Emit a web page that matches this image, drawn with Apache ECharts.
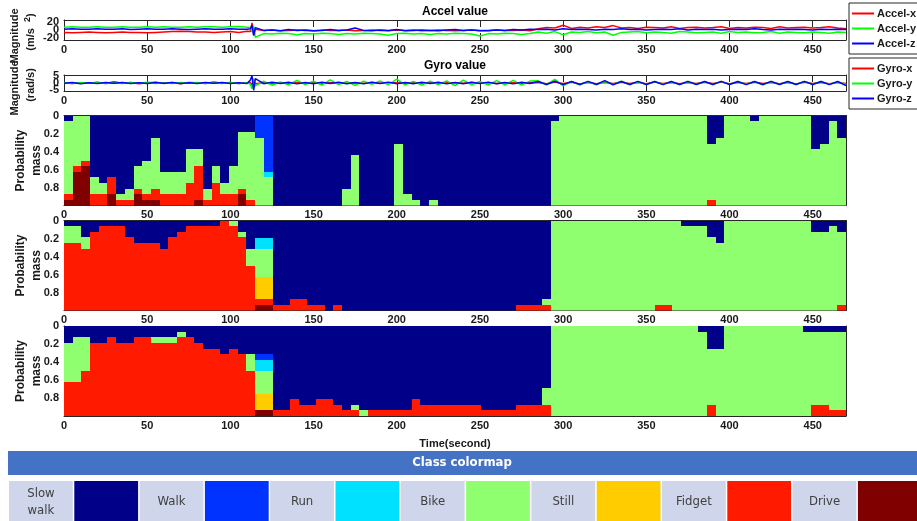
<!DOCTYPE html>
<html>
<head>
<meta charset="utf-8">
<script src="https://cdn.jsdelivr.net/npm/echarts@6/dist/echarts.min.js"></script>
<style>
  html, body { margin: 0; padding: 0; background: #fff; }
  #chart { width: 917px; height: 521px; }
</style>
</head>
<body>
<div id="chart"></div>
<script>
// ---- classes / colormap ----
var classNames = ['Slow\nwalk', 'Walk', 'Run', 'Bike', 'Still', 'Fidget', 'Drive'];
var classColors = ['#000088', '#0033ff', '#00e1ff', '#8fff6f', '#ffcc00', '#ff1a00', '#800000'];

// ---- sensor traces (time in s) ----
var sensorT = [0,5,10,15,20,25,30,35,40,45,50,55,60,65,70,75,80,85,90,95,100,105,110,
  112,113,114,115,
  120,125,130,135,140,145,150,155,160,165,170,175,180,185,190,195,200,205,210,215,220,225,230,235,240,245,250,255,260,265,270,275,280,
  285,290,295,300,305,310,315,320,325,330,335,340,345,350,355,360,365,370,375,380,385,390,395,400,405,410,415,420,425,430,435,440,445,450,455,460,465,470];

var accelX = [-6,-7,-6,-5,-6,-7,-6,-5,-6,-6,-7,-6,-5,-4,-3,-4,-5,-5,-6,-5,-4,-6,-3,
  -4,18,-12,2,
  -1,0,-2,-1,0,-1,-2,0,-1,-1,0,-2,-1,0,-1,-2,0,-1,0,-2,-1,0,-1,-2,-1,0,-1,-2,0,-1,-1,0,-2,
  3,6,5,12,4,7,5,8,6,11,5,6,4,7,6,5,8,4,6,7,5,6,8,4,6,5,7,6,4,8,5,6,7,5,6,8,5,3];
var accelY = [7,8,7,7,8,7,7,8,7,7,8,7,8,7,7,8,7,8,8,7,8,9,7,
  6,-5,10,-18,
  -9,-10,-8,-9,-12,-9,-10,-8,-9,-11,-9,-10,-8,-9,-10,-13,-9,-8,-10,-9,-11,-9,-10,-8,-9,-10,-15,-9,-10,-8,-9,-11,-9,
  -5,-8,-4,-12,-5,-6,-4,-7,-5,-13,-6,-5,-4,-7,-5,-6,-8,-4,-5,-7,-6,-5,-8,-4,-6,-5,-7,-6,-4,-8,-5,-6,-7,-5,-6,-8,-5,-6];
var accelZ = [2,3,2,2,3,2,2,3,1,2,3,2,2,3,2,1,2,3,2,2,3,2,2,
  3,12,-14,6,
  -1,0,-2,1,-1,0,-2,-1,1,-1,0,5,-1,-2,0,-1,1,-2,-1,0,-1,-2,0,1,-1,0,-2,-1,0,-1,1,0,2,
  1,2,0,3,1,2,1,0,2,1,3,1,2,0,1,2,1,3,0,2,1,2,0,1,2,1,3,1,0,2,1,2,1,0,2,1,2,1];

var gyroX = [0,-0.3,0.2,-0.2,0.5,-0.3,0.8,-0.2,0.3,-0.5,0.2,0.6,-0.4,0.3,-0.6,0.4,0.2,-0.3,0.7,-0.2,0.3,-0.4,0.2,
  0.5,-1.5,2,-0.5,
  0.2,-0.3,0.1,-0.2,0.3,-0.1,0.2,-0.3,0.1,0.2,-0.2,0.1,-0.1,0.3,-0.2,0.1,0.2,-0.1,0.3,-0.2,0.1,-0.3,0.2,0.1,-0.2,0.3,-0.1,0.2,-0.3,0.1,0.2,-0.1,0.2,
  0.4,-0.5,0.6,-0.4,0.5,-0.6,0.4,-0.5,0.3,-0.4,0.5,-0.3,0.4,-0.5,0.6,-0.4,0.3,-0.5,0.4,-0.3,0.5,-0.4,0.6,-0.5,0.4,-0.3,0.5,-0.4,0.3,-0.5,0.4,-0.6,0.5,-0.4,0.3,-0.5,0.4,-0.3];
var gyroY = [0.2,-0.4,0.3,-0.2,0.4,-0.3,0.2,-0.4,0.3,-0.2,0.5,-0.3,0.2,-0.4,0.3,-0.2,0.4,-0.3,0.2,-0.4,0.3,-0.3,0.2,
  -1,-4,3,-2,
  1.2,-1.5,0.8,-1.2,1.8,-1,1.2,-1.4,2.2,-1.1,1,-1.6,1.3,-0.9,1.5,-1.2,2.6,-1.3,1.1,-1.5,1.2,-1,1.4,-1.8,2,-1.2,1.1,-1.4,1.6,-1.2,1.8,-1.5,1.3,
  1.5,-1.2,2.5,-2,1,-1.2,0.8,-1,1,-0.8,1.2,-1,0.8,-1,1,-0.8,0.9,-1.1,1,-0.9,0.8,-1,1.1,-0.8,1,-0.9,0.8,-1.2,1,-0.8,0.9,-1,1.1,-0.9,1,-0.8,0.9,-1];
var gyroZ = [-0.2,0.3,-0.5,0.2,-0.3,0.4,-0.2,0.3,-0.4,0.2,-0.3,0.3,-0.2,0.4,-0.3,0.2,-0.4,0.3,-0.2,0.3,-0.4,0.2,-0.3,
  2,5,-5,3,
  -0.5,0.6,-0.4,0.5,-0.6,0.4,-0.5,0.6,-0.4,0.5,-0.5,0.4,-0.6,0.5,-0.4,0.6,-0.5,0.4,-0.5,0.6,-0.4,0.5,-0.6,0.4,-0.5,0.5,-0.4,0.6,-0.5,0.4,-0.6,0.5,-0.4,
  1,-1,1.2,-1.1,1,-1,1.1,-1,1.6,-1.2,1,-1,1.1,-1,1,-1.1,1,-1,1.1,-1,1,-1,1.1,-1,1,-1.1,1,-1,1.1,-1,1,-1,1.1,-1,1,-1.1,1,-1.8];

var accelNames = ['Accel-x', 'Accel-y', 'Accel-z'];
var gyroNames = ['Gyro-x', 'Gyro-y', 'Gyro-z'];
var traceColors = ['#ff0000', '#00ff00', '#0000ff'];
var accelTicks = [-20, 0, 20];
var gyroTicks = [-5, 0, 5];

// ---- probability mass, 90 bins over 0..470 s ----
var binCount = 90;
var timeMax = 470;

// bike is dense, the rest sparse {bin: mass}; slow walk takes what is left
var p1Bike = [.812,.562,.5,.188,.125,0,.062,.125,.25,.375,.562,.25,.25,.25,.375,.188,.125,.188,.125,.312,.625,.75,.75,.312,
  0,0,0,0,0,0,0,0,.188,.562,0,0,0,0,.688,.125,.062,0,.062,
  0,0,0,0,0,0,0,0,0,0,0,0,0,
  .938,1,1,1,1,1,1,1,1,1,1,1,1,1,1,1,1,1,.625,.75,1,1,1,.938,1,1,1,1,1,1,.625,.688,.938,.75];
var p1Walk = {22: .25, 23: .625};
var p1Run = {23: .062};
var p1Still = {};
var p1Fidget = {0:.062,1:.062,2:.062,3:.125,4:.125,5:.188,6:.062,7:.062,8:.062,9:.062,10:.125,11:.125,12:.125,13:.125,
  14:.25,15:.375,16:.062,17:.25,18:.125,19:.125,20:.062,21:.062,74:.062};
var p1Drive = {0:.062,1:.375,2:.438,5:.125,8:.125,9:.062,10:.062,15:.062,20:.125};

var p2Bike = [.188,.188,.125,0,0,0,0,0,0,0,0,0,0,0,0,0,0,0,0,.062,.062,.188,.312,.312,
  0,0,0,0,0,0,0,0,0,0,0,0,0,0,0,0,0,0,0,0,0,0,0,0,0,0,0,0,0,0,0,
  .062,1,1,1,1,1,1,1,1,1,1,1,1,.938,.938,1,.938,.938,.938,.812,.75,1,1,1,1,1,1,1,1,1,1,.875,.875,.938,.812];
var p2Walk = {};
var p2Run = {22: .125, 23: .125};
var p2Still = {22: .25, 23: .25};
var p2Fidget = {0:.75,1:.75,2:.688,3:.875,4:.938,5:.938,6:.938,7:.812,8:.75,9:.75,10:.75,11:.688,12:.812,13:.875,
  14:.938,15:.938,16:.938,17:.938,18:1,19:.938,20:.812,21:.5,22:.062,23:.062,24:.062,25:.062,26:.125,27:.125,
  28:.062,29:.062,31:.062,52:.062,53:.062,54:.062,55:.062,68:.062,69:.062,89:.062};
var p2Drive = {22: .062, 23: .062};

var p3Bike = [.438,.5,.375,0,0,0,0,0,0,0,.062,.062,.062,.062,0,0,0,0,0,0,0,.188,.25,.25,
  0,0,0,0,0,0,0,0,0,.062,.062,
  0,0,0,0,0,0,0,0,0,0,0,0,0,0,0,0,0,0,0,0,
  .188,1,1,1,1,1,1,1,1,1,1,1,1,1,1,1,1,1,.938,.625,.75,1,1,1,1,1,1,1,1,1,.938,.812,.812,.875,.875];
var p3Walk = {22: .062, 23: .062};
var p3Run = {22: .125, 23: .125};
var p3Still = {22: .188, 23: .188};
var p3Fidget = {0:.375,1:.375,2:.5,3:.812,4:.812,5:.875,6:.812,7:.812,8:.875,9:.875,10:.812,11:.812,12:.812,13:.875,
  14:.875,15:.812,16:.75,17:.75,18:.688,19:.75,20:.688,21:.5,24:.062,25:.062,26:.188,27:.125,28:.125,29:.188,
  30:.188,31:.125,32:.062,33:.062,35:.062,36:.062,37:.062,38:.062,39:.062,40:.188,41:.125,42:.125,43:.125,
  44:.125,45:.125,46:.125,47:.125,48:.062,49:.062,50:.062,51:.062,52:.125,53:.125,54:.125,55:.125,
  74:.125,86:.125,87:.125,88:.062,89:.062};
var p3Drive = {22: .062, 23: .062};

function dense(map) {
  var a = [];
  for (var i = 0; i < binCount; i++) a.push(map[i] || 0);
  return a;
}

// returns 7 arrays in class order
function buildPanel(bike, walk, run, still, fidget, drive) {
  var w = dense(walk), r = dense(run), s = dense(still), f = dense(fidget), d = dense(drive);
  var slow = [];
  for (var i = 0; i < binCount; i++) {
    var rest = 1 - (w[i] + r[i] + bike[i] + s[i] + f[i] + d[i]);
    slow.push(Math.max(0, Math.round(rest * 1000) / 1000));
  }
  return [slow, w, r, bike, s, f, d];
}

var panels = [
  buildPanel(p1Bike, p1Walk, p1Run, p1Still, p1Fidget, p1Drive),
  buildPanel(p2Bike, p2Walk, p2Run, p2Still, p2Fidget, p2Drive),
  buildPanel(p3Bike, p3Walk, p3Run, p3Still, p3Fidget, p3Drive)
];

// stack the classes of a panel: one item per bin -> [tStart, tEnd, massFrom, massTo]
function stackPanel(pd) {
  var out = pd.map(function () { return []; });
  var binW = timeMax / binCount;
  for (var i = 0; i < binCount; i++) {
    var acc = 0;
    for (var c = 0; c < pd.length; c++) {
      var v = pd[c][i];
      if (v > 0) out[c].push([i * binW, (i + 1) * binW, acc, Math.min(1, acc + v)]);
      acc += v;
    }
  }
  return out;
}

// pixel-snapped rectangles so neighbouring bins leave no seams
function renderBin(params, api) {
  var a = api.coord([api.value(0), api.value(2)]);
  var b = api.coord([api.value(1), api.value(3)]);
  var x0 = Math.round(a[0]), x1 = Math.round(b[0]);
  var y0 = Math.round(Math.min(a[1], b[1])), y1 = Math.round(Math.max(a[1], b[1]));
  return {
    type: 'rect',
    shape: { x: x0, y: y0, width: x1 - x0, height: y1 - y0 },
    style: { fill: api.visual('color') }
  };
}

// ---- layout ----
var FONT = "'Liberation Sans', Arial, sans-serif";
var NARROW = "'Liberation Sans Narrow', 'DejaVu Sans Condensed', sans-serif";
var axisCol = '#262626';
var plotLeft = 64, plotWidth = 782;
var grids = [
  { top: 20, height: 20 },
  { top: 75, height: 16 },
  { top: 115.5, height: 90 },
  { top: 220.5, height: 90 },
  { top: 326, height: 90 }
].map(function (g) {
  return Object.assign({ left: plotLeft, width: plotWidth, outerBoundsMode: 'none', containLabel: false }, g);
});

var tickLabel = { fontFamily: FONT, fontWeight: 'bold', fontSize: 11, color: '#1a1a1a' };
var lineSty = { color: axisCol, width: 1 };

var xAxes = [], yAxes = [];

function timeAxis(gi, pos, extra) {
  var ax = {
    type: 'value', gridIndex: gi, position: pos, min: 0, max: timeMax, interval: 50,
    axisLine: { show: true, onZero: false, lineStyle: lineSty },
    axisTick: { show: true, inside: true, length: 7, lineStyle: lineSty },
    axisLabel: pos === 'bottom' ? Object.assign({ margin: 4, showMinLabel: true, showMaxLabel: false }, tickLabel) : { show: false },
    splitLine: { show: false }
  };
  xAxes.push(Object.assign(ax, extra || {}));
  return xAxes.length - 1;
}

function valAxis(gi, pos, cfg) {
  var ax = Object.assign({
    type: 'value', gridIndex: gi, position: pos,
    axisLine: { show: true, onZero: false, lineStyle: lineSty },
    axisTick: { show: true, inside: true, length: 7, lineStyle: lineSty },
    axisLabel: pos === 'left' ? Object.assign({ margin: 5, hideOverlap: false }, tickLabel) : { show: false },
    splitLine: { show: false },
    nameMoveOverlap: false
  }, cfg);
  if (pos === 'right') { delete ax.name; ax.axisLabel = { show: false }; }
  yAxes.push(ax);
  return yAxes.length - 1;
}

// value axis with a padded range where only chosen values get a label
function sparseLabels(list) {
  return function (v) {
    var r = Math.round(v * 100) / 100;
    return list.indexOf(r) >= 0 ? String(r) : '';
  };
}

var nameStyle = { fontFamily: FONT, fontWeight: 'bold', fontSize: 12, color: '#1a1a1a', lineHeight: 16 };

var series = [];

// accel
var ax0 = timeAxis(0, 'bottom'); timeAxis(0, 'top');
var ay0 = valAxis(0, 'left', { min: -25, max: 25, interval: 5 });
yAxes[ay0].axisTick = { show: false };
yAxes[ay0].axisLabel.formatter = sparseLabels(accelTicks);
var ay0r = valAxis(0, 'right', { min: -25, max: 25, interval: 5 });
yAxes[ay0r].axisTick = { show: false };

[accelX, accelY, accelZ].forEach(function (vals, k) {
  series.push({
    type: 'line', name: accelNames[k], xAxisIndex: ax0, yAxisIndex: ay0,
    data: sensorT.map(function (t, i) { return [t, vals[i]]; }),
    showSymbol: false, lineStyle: { width: 1.5, color: traceColors[k] }, itemStyle: { color: traceColors[k] },
    animation: false, silent: true
  });
});

// gyro
var ax1 = timeAxis(1, 'bottom'); timeAxis(1, 'top');
var ay1 = valAxis(1, 'left', { min: -5.5, max: 5.5, interval: 0.5 });
yAxes[ay1].axisTick = { show: false };
yAxes[ay1].axisLabel.formatter = sparseLabels(gyroTicks);
var ay1r = valAxis(1, 'right', { min: -5.5, max: 5.5, interval: 0.5 });
yAxes[ay1r].axisTick = { show: false };

[gyroX, gyroY, gyroZ].forEach(function (vals, k) {
  series.push({
    type: 'line', name: gyroNames[k], xAxisIndex: ax1, yAxisIndex: ay1,
    data: sensorT.map(function (t, i) { return [t, vals[i]]; }),
    showSymbol: false, lineStyle: { width: 1.5, color: traceColors[k] }, itemStyle: { color: traceColors[k] },
    animation: false, silent: true
  });
});

// probability panels
panels.forEach(function (pd, pi) {
  var gi = pi + 2;
  var extra = pi === 2 ? {
    name: 'Time(second)', nameLocation: 'middle', nameGap: 22,
    nameTextStyle: { fontFamily: FONT, fontWeight: 'bold', fontSize: 11, color: '#1a1a1a' }
  } : {};
  var xb = timeAxis(gi, 'bottom', extra); timeAxis(gi, 'top');
  var yl = valAxis(gi, 'left', {
    min: 0, max: 1, interval: 0.2, inverse: true,
    name: 'Probability\nmass', nameLocation: 'middle', nameRotate: 90, nameGap: 19,
    nameTextStyle: nameStyle
  });
  yAxes[yl].axisLabel.formatter = function (v) { return v >= 1 ? '' : String(+v.toFixed(1)); };
  valAxis(gi, 'right', { min: 0, max: 1, interval: 0.2, inverse: true });

  stackPanel(pd).forEach(function (items, ci) {
    series.push({
      type: 'custom', name: classNames[ci], xAxisIndex: xb, yAxisIndex: yl,
      data: items, encode: { x: [0, 1], y: [2, 3] },
      renderItem: renderBin, itemStyle: { color: classColors[ci] },
      clip: true, animation: false, silent: true, z: 1
    });
  });
});

// ---- graphics: titles, rotated y names, colormap ----
function vText(x, y, text) {
  return {
    type: 'text', x: x, y: y, rotation: Math.PI / 2,
    style: {
      text: text, align: 'center', verticalAlign: 'middle', font: 'bold 11px ' + FONT, fill: '#1a1a1a',
      rich: { sup: { font: 'bold 9px ' + FONT, fill: '#1a1a1a', verticalAlign: 'top', padding: [0, 0, 7, 0] } }
    }
  };
}

var graphics = [
  { type: 'text', x: plotLeft + plotWidth / 2, y: 12,
    style: { text: 'Accel value', align: 'center', verticalAlign: 'middle', font: 'bold 12px ' + FONT, fill: '#000' } },
  { type: 'text', x: plotLeft + plotWidth / 2, y: 66,
    style: { text: 'Gyro value', align: 'center', verticalAlign: 'middle', font: 'bold 12px ' + FONT, fill: '#000' } },
  vText(15, 36, 'Magnitude'),
  vText(31, 32, '(m/s  {sup|2})'),
  vText(15, 88, 'Magnitude'),
  vText(31, 85, '(rad/s)'),
  { type: 'rect', shape: { x: 8, y: 451, width: 909, height: 24 }, style: { fill: '#4472c4' } },
  { type: 'text', x: 462, y: 463,
    style: { text: 'Class colormap', align: 'center', verticalAlign: 'middle', font: 'bold 13px ' + NARROW, fill: '#fff' } }
];
var cellPitch = 65.3, cellW = 63.8, cellX0 = 9;
classNames.forEach(function (n, ci) {
  var xl = cellX0 + cellPitch * 2 * ci;
  var xc = xl + cellPitch;
  graphics.push({ type: 'rect', shape: { x: xl, y: 481, width: cellW, height: 45 }, style: { fill: '#cfd5ea' } });
  graphics.push({ type: 'text', x: xl + cellW / 2, y: 502,
    style: { text: n, align: 'center', verticalAlign: 'middle', font: '13px ' + NARROW, fill: '#404040', lineHeight: 17 } });
  graphics.push({ type: 'rect', shape: { x: xc, y: 481, width: cellW, height: 45 }, style: { fill: classColors[ci] } });
});

var legendBase = {
  orient: 'vertical', left: 849, icon: 'rect', itemWidth: 22, itemHeight: 2, itemGap: 4,
  padding: [5, 10, 5, 3], borderColor: axisCol, borderWidth: 1, backgroundColor: '#fff',
  selectedMode: false,
  textStyle: { fontFamily: FONT, fontWeight: 'bold', fontSize: 11, color: '#1a1a1a', padding: [0, 0, 0, -2] }
};

var chart = echarts.init(document.getElementById('chart'), null, { renderer: 'canvas' });
chart.setOption({
  backgroundColor: '#fff',
  animation: false,
  grid: grids,
  xAxis: xAxes,
  yAxis: yAxes,
  legend: [
    Object.assign({}, legendBase, { top: 3, data: accelNames }),
    Object.assign({}, legendBase, { top: 58, data: gyroNames })
  ],
  graphic: graphics,
  series: series
});
</script>
</body>
</html>
